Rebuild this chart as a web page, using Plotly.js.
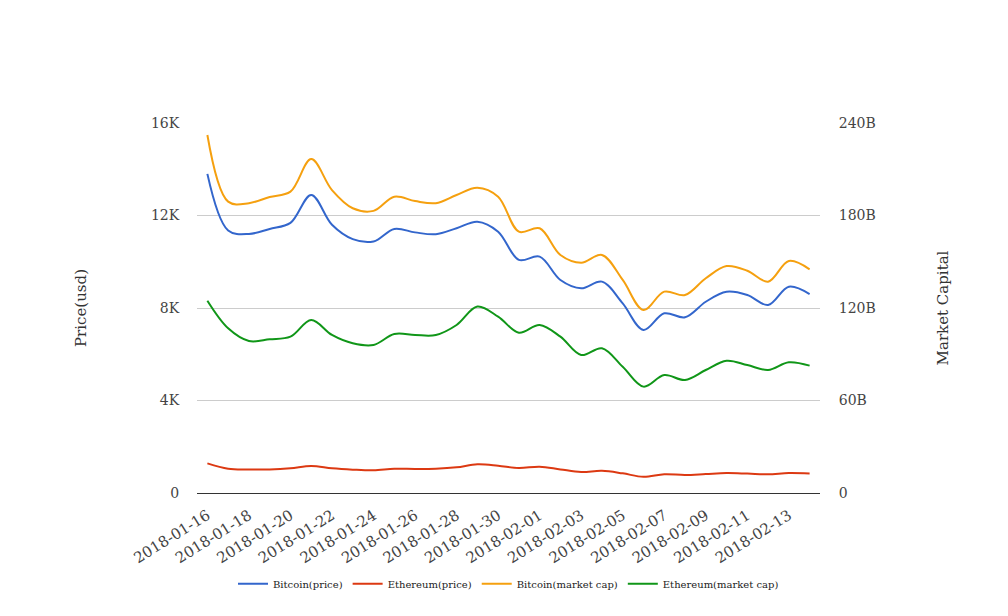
<!DOCTYPE html>
<html>
<head>
<meta charset="utf-8">
<script src="https://cdn.plot.ly/plotly-3.0.1.min.js"></script>
<style>html,body{margin:0;padding:0;background:#fff;}#chart{width:1008px;height:616px;}</style>
</head>
<body>
<div id="chart"></div>
<script>
const dates = ["2018-01-16","2018-01-17","2018-01-18","2018-01-19","2018-01-20","2018-01-21","2018-01-22","2018-01-23","2018-01-24","2018-01-25","2018-01-26","2018-01-27","2018-01-28","2018-01-29","2018-01-30","2018-01-31","2018-02-01","2018-02-02","2018-02-03","2018-02-04","2018-02-05","2018-02-06","2018-02-07","2018-02-08","2018-02-09","2018-02-10","2018-02-11","2018-02-12","2018-02-13","2018-02-14"];

const bitcoinPrice = [13800,11350,11200,11420,11680,12890,11600,10980,10880,11420,11270,11190,11450,11730,11300,10080,10220,9210,8850,9140,8200,7050,7770,7600,8270,8700,8560,8130,8920,8600];
const ethereumPrice = [1280,1050,1020,1020,1070,1170,1070,1010,980,1050,1040,1050,1110,1240,1180,1080,1140,1020,910,960,850,700,810,780,820,860,840,810,860,840];
const bitcoinCap = [232.2e9,189e9,188e9,192e9,195.5e9,216.6e9,196.5e9,184.7e9,183e9,192.2e9,189.4e9,188e9,193.3e9,198e9,192.2e9,169.5e9,171.7e9,154.4e9,149.4e9,154.4e9,138.2e9,118.7e9,130.6e9,128.4e9,139.3e9,147.2e9,144.2e9,137.1e9,150.5e9,145.1e9];
const ethereumCap = [124.7e9,106.8e9,98.6e9,99.7e9,101.4e9,112.2e9,102.5e9,97.1e9,96e9,103.1e9,102.5e9,102.5e9,109e9,120.9e9,114.4e9,104e9,109e9,101.4e9,89.5e9,93.9e9,81.9e9,69e9,76.5e9,73.3e9,79.8e9,85.8e9,83e9,79.8e9,84.8e9,82.6e9];

const priceTickVals = [0,4000,8000,12000,16000];
const priceTickText = ["0","4K","8K","12K","16K"];
const capTickVals = [0,60e9,120e9,180e9,240e9];
const capTickText = ["0","60B","120B","180B","240B"];

const FONT = "DejaVu Serif, serif";

function line(name, y, color, axis) {
  return {
    type: "scatter", mode: "lines", name: name, x: dates, y: y, yaxis: axis,
    line: {color: color, width: 2, shape: "spline", smoothing: 1},
    hoverinfo: "x+y"
  };
}

const data = [
  line("Bitcoin(price)", bitcoinPrice, "#3366cc", "y"),
  line("Ethereum(price)", ethereumPrice, "#dc3912", "y"),
  line("Bitcoin(market cap)", bitcoinCap, "#f5a00f", "y2"),
  line("Ethereum(market cap)", ethereumCap, "#109618", "y2")
];

const layout = {
  width: 1008, height: 616,
  margin: {l: 197, r: 188, t: 123, b: 123, pad: 0},
  paper_bgcolor: "#fff", plot_bgcolor: "#fff",
  font: {family: FONT, size: 14, color: "#444"},
  showlegend: true,
  legend: {
    orientation: "h", x: 0.5, xanchor: "center", y: -0.245, yanchor: "middle",
    font: {family: FONT, size: 10, color: "#222"}, itemwidth: 30, tracegroupgap: 0
  },
  xaxis: {
    type: "category", categoryorder: "array", categoryarray: dates,
    range: [-0.5, 29.5], dtick: 2, tickangle: -32,
    showgrid: false, zeroline: false, showline: true, linecolor: "#333", linewidth: 1,
    ticks: "outside", ticklen: 7, tickcolor: "rgba(0,0,0,0)",
    tickfont: {family: FONT, size: 15, color: "#444"}
  },
  yaxis: {
    range: [0, 16000], tickvals: priceTickVals, ticktext: priceTickText,
    showgrid: true, gridcolor: "#cccccc", gridwidth: 1, zeroline: false, showline: false,
    ticks: "outside", ticklen: 14, tickcolor: "rgba(0,0,0,0)",
    tickfont: {family: FONT, size: 14, color: "#444"},
    title: {text: "Price(usd)", standoff: 60, font: {family: FONT, size: 15, color: "#333"}},
    automargin: false, fixedrange: true
  },
  yaxis2: {
    overlaying: "y", side: "right",
    range: [0, 240e9], tickvals: capTickVals, ticktext: capTickText,
    showgrid: false, zeroline: false, showline: false,
    ticks: "outside", ticklen: 15, tickcolor: "rgba(0,0,0,0)",
    tickfont: {family: FONT, size: 14, color: "#444"},
    title: {text: "Market Capital", standoff: 62, font: {family: FONT, size: 15, color: "#333"}},
    automargin: false, fixedrange: true
  }
};

Plotly.newPlot("chart", data, layout, {displayModeBar: false});
</script>
</body>
</html>
